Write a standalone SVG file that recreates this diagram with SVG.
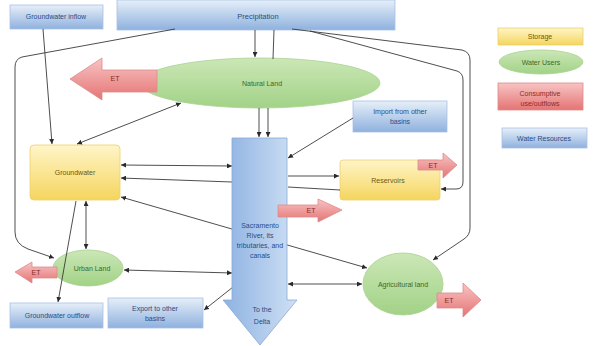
<svg xmlns="http://www.w3.org/2000/svg" width="595" height="346" viewBox="0 0 595 346">
  <style>
    .lbl { font-family: "Liberation Sans", Arial, sans-serif; font-size: 7px; text-anchor: middle; }
    .blue-t { fill: #2b4c85; }
    .yel-t { fill: #6b5a12; }
    .grn-t { fill: #3d6a27; }
    .red-t { fill: #8a2b2b; }
    .blue { fill: url(#gBlue); stroke: #a9c1e4; stroke-width: 0.8; }
    .yel { fill: url(#gYel); stroke: #ecd06a; stroke-width: 0.8; }
    .grn { fill: url(#gGrn); stroke: #a9d290; stroke-width: 0.8; }
    .red { fill: url(#gRed); stroke: #dc8a8a; stroke-width: 0.8; }
    .conn path { fill: none; stroke: #3a3a3a; stroke-width: 0.9; }
  </style>
  <defs>
    <linearGradient id="gBlue" x1="0" y1="0" x2="0" y2="1">
      <stop offset="0" stop-color="#e6eff9"/>
      <stop offset="1" stop-color="#8fb1de"/>
    </linearGradient>
    <linearGradient id="gYel" x1="0" y1="0" x2="0" y2="1">
      <stop offset="0" stop-color="#fff5c8"/>
      <stop offset="1" stop-color="#f5d55e"/>
    </linearGradient>
    <linearGradient id="gGrn" x1="0" y1="0" x2="0" y2="1">
      <stop offset="0" stop-color="#cbe7b6"/>
      <stop offset="1" stop-color="#a2d287"/>
    </linearGradient>
    <linearGradient id="gRed" x1="0" y1="0" x2="0" y2="1">
      <stop offset="0" stop-color="#f8c4c4"/>
      <stop offset="1" stop-color="#e57474"/>
    </linearGradient>
    <linearGradient id="gRiver" x1="0" y1="0" x2="1" y2="0">
      <stop offset="0" stop-color="#8db2e2"/>
      <stop offset="1" stop-color="#cfe0f4"/>
    </linearGradient>
    <marker id="ah" viewBox="0 0 10 10" refX="10" refY="5" markerWidth="5" markerHeight="5" orient="auto-start-reverse" markerUnits="userSpaceOnUse">
      <path d="M0,0 L10,5 L0,10 z" fill="#2a2a2a"/>
    </marker>
  </defs>

  <rect width="595" height="346" fill="#ffffff"/>

  <!-- water resources -->
  <g id="gw-inflow">
    <rect class="blue" x="10" y="5" width="93" height="24"/>
    <text class="lbl blue-t" x="56" y="19">Groundwater inflow</text>
  </g>
  <g id="precipitation">
    <rect class="blue" x="117" y="0" width="278" height="30"/>
    <text class="lbl blue-t" x="258" y="19" style="font-size:7.5px">Precipitation</text>
  </g>
  <g id="import">
    <rect class="blue" x="353" y="101" width="94" height="31"/>
    <text class="lbl blue-t" x="400" y="114">Import from other</text>
    <text class="lbl blue-t" x="400" y="124">basins</text>
  </g>
  <g id="gw-outflow">
    <rect class="blue" x="10" y="303" width="93" height="25"/>
    <text class="lbl blue-t" x="57" y="318">Groundwater outflow</text>
  </g>
  <g id="export">
    <rect class="blue" x="108" y="298" width="95" height="30"/>
    <text class="lbl blue-t" x="155" y="311">Export to other</text>
    <text class="lbl blue-t" x="155" y="321">basins</text>
  </g>

  <!-- storage -->
  <g id="groundwater">
    <rect class="yel" x="30" y="145" width="90" height="55" rx="4"/>
    <text class="lbl yel-t" x="75" y="175">Groundwater</text>
  </g>
  <g id="reservoirs">
    <rect class="yel" x="340" y="160" width="100" height="40" rx="3"/>
    <text class="lbl yel-t" x="388" y="183">Reservoirs</text>
  </g>
  <g id="et-reservoirs">
    <path class="red" d="M418,160 L443,160 L443,153 L457,165 L443,178 L443,170 L418,170 z"/>
    <text class="lbl red-t" x="433" y="168">ET</text>
  </g>

  <!-- water users -->
  <g id="natural-land">
    <ellipse class="grn" cx="260" cy="83" rx="120" ry="25"/>
    <text class="lbl grn-t" x="262" y="86">Natural Land</text>
  </g>
  <g id="urban-land">
    <ellipse class="grn" cx="88" cy="268" rx="35" ry="18"/>
    <text class="lbl grn-t" x="92" y="271">Urban Land</text>
  </g>
  <g id="agri-land">
    <ellipse class="grn" cx="403" cy="284" rx="40" ry="31"/>
    <text class="lbl grn-t" x="403" y="287">Agricultural land</text>
  </g>

  <!-- consumptive use arrows -->
  <g id="et-natural">
    <path class="red" d="M157,70 L102,70 L102,58 L70,79 L102,100 L102,92 L157,92 z"/>
    <text class="lbl red-t" x="115" y="81">ET</text>
  </g>
  <g id="et-urban">
    <path class="red" d="M57,267 L32,267 L32,262 L15,272 L32,283 L32,278 L57,278 z"/>
    <text class="lbl red-t" x="36" y="275">ET</text>
  </g>
  <g id="et-agri">
    <path class="red" d="M437,293 L463,293 L463,283 L481,300 L463,317 L463,308 L437,308 z"/>
    <text class="lbl red-t" x="449" y="303">ET</text>
  </g>

  <!-- connectors -->
  <g id="connectors" class="conn">
    <path d="M43,29 L52,144" marker-end="url(#ah)"/>
    <path d="M255,30 L255,57" marker-end="url(#ah)"/>
    <path d="M274,30 L273,59"/>
    <path d="M175,29 L22,57 Q15,59 15,67 L15,232 Q15,244 28,249 L54,258" marker-end="url(#ah)"/>
    <path d="M292,29 L462,50 Q470,52 470,60 L470,228 Q470,235 464,239 L433,260" marker-end="url(#ah)"/>
    <path d="M310,31 L457,71 Q463,73 463,80 L463,182 Q463,189 456,189 L441,189" marker-end="url(#ah)"/>
    <path d="M181,103 L77,144" marker-start="url(#ah)" marker-end="url(#ah)"/>
    <path d="M259,108 L259,137" marker-end="url(#ah)"/>
    <path d="M268,108 L268,137" marker-end="url(#ah)"/>
    <path d="M353,118 L288,158" marker-end="url(#ah)"/>
    <path d="M121,165 L232,166" marker-start="url(#ah)" marker-end="url(#ah)"/>
    <path d="M232,182 L121,178" marker-end="url(#ah)"/>
    <path d="M121,197 L367,268" marker-start="url(#ah)" marker-end="url(#ah)"/>
    <path d="M288,176 L339,176" marker-end="url(#ah)"/>
    <path d="M340,190 L288,187"/>
    <path d="M86,201 L86,249" marker-start="url(#ah)" marker-end="url(#ah)"/>
    <path d="M76,201 L58,302" marker-end="url(#ah)"/>
    <path d="M124,270 L232,273" marker-start="url(#ah)" marker-end="url(#ah)"/>
    <path d="M233,287 L204,310" marker-end="url(#ah)"/>
    <path d="M288,284 L362,284" marker-start="url(#ah)" marker-end="url(#ah)"/>
  </g>

  <!-- river -->
  <g id="river">
    <path d="M232,138 L287,138 L287,300 L297,300 L260,345 L223,300 L232,300 z" fill="url(#gRiver)" stroke="#8aaad6" stroke-width="0.8"/>
    <text class="lbl blue-t" x="260" y="228">Sacramento</text>
    <text class="lbl blue-t" x="260" y="238">River, its</text>
    <text class="lbl blue-t" x="260" y="248">tributaries, and</text>
    <text class="lbl blue-t" x="260" y="258">canals</text>
    <text class="lbl blue-t" x="262" y="312">To the</text>
    <text class="lbl blue-t" x="262" y="324">Delta</text>
  </g>
  <g id="et-river">
    <path class="red" d="M278,205 L318,205 L318,199 L342,210 L318,222 L318,217 L278,217 z"/>
    <text class="lbl red-t" x="311" y="213">ET</text>
  </g>

  <!-- legend -->
  <g id="legend-storage">
    <rect class="yel" x="498" y="28" width="85" height="17"/>
    <text class="lbl yel-t" x="540" y="39">Storage</text>
  </g>
  <g id="legend-users">
    <ellipse class="grn" cx="541" cy="62" rx="42" ry="12"/>
    <text class="lbl grn-t" x="541" y="65">Water Users</text>
  </g>
  <g id="legend-consumptive">
    <rect class="red" x="498" y="83" width="85" height="27"/>
    <text class="lbl red-t" x="540" y="96">Consumptive</text>
    <text class="lbl red-t" x="540" y="106">use/outflows</text>
  </g>
  <g id="legend-resources">
    <rect class="blue" x="502" y="128" width="85" height="20"/>
    <text class="lbl blue-t" x="544" y="141">Water Resources</text>
  </g>
</svg>
